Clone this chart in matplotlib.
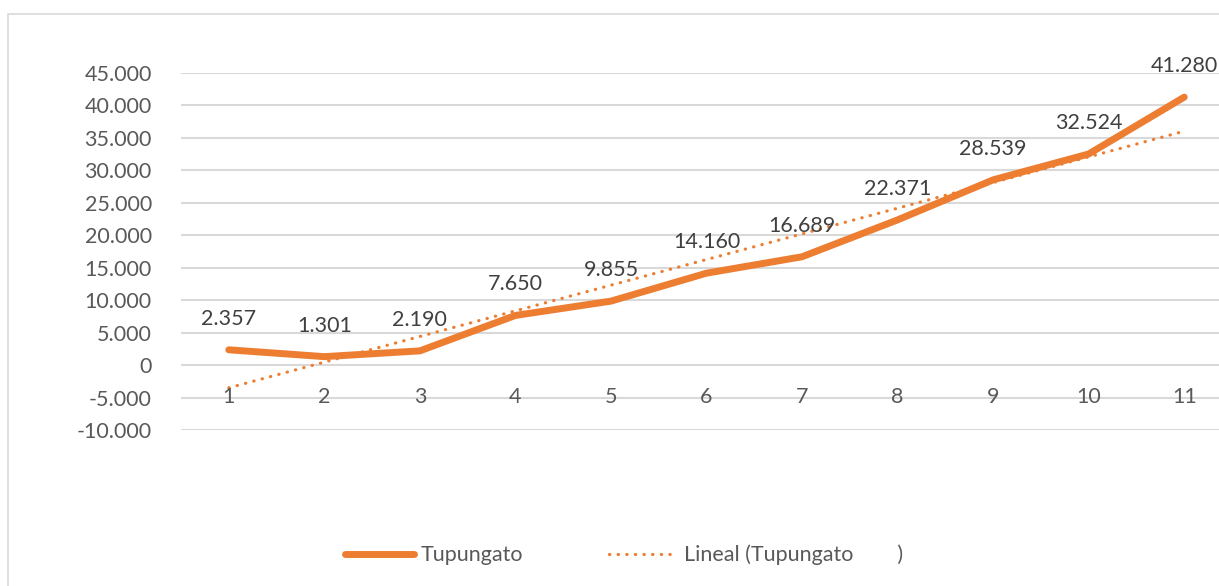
import numpy as np
import matplotlib
matplotlib.use("Agg")
import matplotlib.pyplot as plt
from matplotlib.lines import Line2D
from matplotlib.patches import Rectangle

categories = [1, 2, 3, 4, 5, 6, 7, 8, 9, 10, 11]
values = [2357, 1301, 2190, 7650, 9855, 14160, 16689, 22371, 28539, 32524, 41280]
labels = ["2.357", "1.301", "2.190", "7.650", "9.855", "14.160", "16.689",
          "22.371", "28.539", "32.524", "41.280"]
yticks = [-10000, -5000, 0, 5000, 10000, 15000, 20000, 25000, 30000, 35000, 40000, 45000]
ytick_labels = ["-10.000", "-5.000", "0", "5.000", "10.000", "15.000", "20.000",
                "25.000", "30.000", "35.000", "40.000", "45.000"]

ORANGE = "#ED7D31"
GRID = "#D9D9D9"
AXTXT = "#595959"
LBLTXT = "#404040"
FONT = "Lato"
FS = 15.5

plt.rcParams['font.family'] = [FONT, 'DejaVu Sans']

W, H = 1219, 586
fig = plt.figure(figsize=(W / 100, H / 100), dpi=100)
fig.patches.append(Rectangle((8 / W, -0.1), 1.2, 1 - 14 / H + 0.1, transform=fig.transFigure,
                             fill=False, edgecolor=GRID, linewidth=1.2))

left, right = 181, 1232
top, bottom = 73, 430
ax = fig.add_axes([left / W, 1 - bottom / H, (right - left) / W, (bottom - top) / H])
ax.set_xlim(0.5, 11.5)
ax.set_ylim(-10000, 45000)
for s in ax.spines.values():
    s.set_visible(False)
ax.set_yticks(yticks)
ax.set_yticklabels(ytick_labels, fontsize=FS, color=AXTXT)
ax.tick_params(axis='y', length=0, pad=21)
ax.set_xticks([])
ax.grid(axis='y', color=GRID, linewidth=1.5)
ax.set_axisbelow(True)

x = np.array(categories, dtype=float)
y = np.array(values, dtype=float)
ax.plot(x, y, color=ORANGE, lw=5, solid_capstyle='round', solid_joinstyle='round', zorder=3)
coef = np.polyfit(x, y, 1)
ax.plot(x, np.polyval(coef, x), color=ORANGE, lw=2.3, linestyle=(0, (0.1, 2.6)),
        dash_capstyle='round', zorder=2)

for xi, yi, lb in zip(x, y, labels):
    ax.annotate(lb, (xi, yi), xytext=(0, 31), textcoords='offset pixels', ha='center',
                va='center', fontsize=FS, color=LBLTXT, annotation_clip=False)
for c in categories:
    ax.annotate(str(c), (c, 0), xytext=(0, -32), textcoords='offset pixels', ha='center',
                va='center', fontsize=FS, color=AXTXT, annotation_clip=False)

h1 = Line2D([], [], color=ORANGE, lw=5, solid_capstyle='round')
h2 = Line2D([], [], color=ORANGE, lw=2.3, linestyle=(0, (0.1, 2.6)), dash_capstyle='round')
leg = fig.legend([h1, h2], ["Tupungato", "Lineal (Tupungato        )"], loc='center',
                 bbox_to_anchor=(624 / W, 1 - 555 / H), ncol=2, frameon=False,
                 fontsize=FS, handlelength=3.2, handletextpad=0.3, columnspacing=4.0,
                 labelcolor=AXTXT)

fig.savefig("out.png", dpi=100)
